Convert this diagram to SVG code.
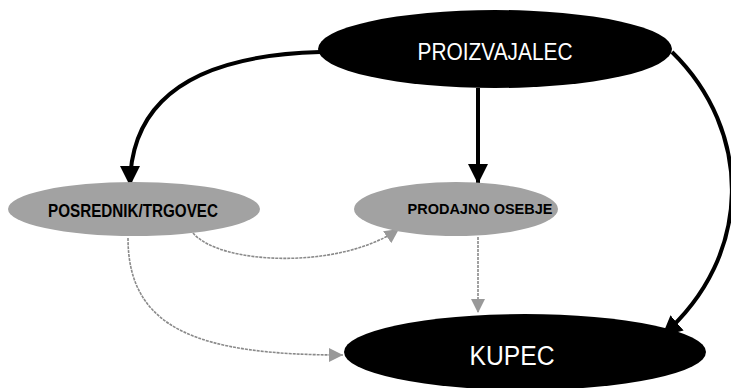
<svg xmlns="http://www.w3.org/2000/svg" width="731" height="388" viewBox="0 0 731 388">
<defs>
<style>
.dark{fill:#000}
.gray{fill:#a2a2a2}
.wt{fill:#fff;font-family:"Liberation Sans",Arial,sans-serif;font-weight:normal;text-anchor:middle}
.bt{fill:#000;font-family:"Liberation Sans",Arial,sans-serif;font-weight:bold;text-anchor:middle}
.thick{fill:none;stroke:#000;stroke-width:4}
.thin{fill:none;stroke:#8a8a8a;stroke-width:1.6;stroke-dasharray:3 1}
</style>
<marker id="ab" viewBox="0 0 10 10" refX="10" refY="5" markerWidth="5" markerHeight="5" markerUnits="strokeWidth" orient="auto">
<path d="M0,0 L10,5 L0,10 Z" fill="#000"/>
</marker>
<marker id="ag" viewBox="0 0 10 10" refX="10" refY="5" markerWidth="9" markerHeight="9" markerUnits="strokeWidth" orient="auto">
<path d="M0,0 L10,5 L0,10 Z" fill="#999"/>
</marker>
</defs>
<rect width="731" height="388" fill="#fff"/>
<g id="connectors">
<path class="thick" d="M320,52 C210,55 130,90 130,186" marker-end="url(#ab)"/>
<path class="thick" d="M478,88 L478,184" marker-end="url(#ab)"/>
<path class="thick" d="M672,52 C752,130 755,255 662,336" marker-end="url(#ab)"/>
<path class="thin" d="M478,237 L478,313" marker-end="url(#ag)"/>
<path class="thin" d="M193,233 C220,265 340,270 399,229" marker-end="url(#ag)"/>
<path class="thin" d="M128,238 C128,330 200,355 343,355" marker-end="url(#ag)"/>
</g>
<g id="proizvajalec">
<ellipse class="dark" cx="495" cy="49" rx="177" ry="39"/>
<text class="wt" x="495" y="60" font-size="23" textLength="155" lengthAdjust="spacingAndGlyphs">PROIZVAJALEC</text>
</g>
<g id="posrednik">
<ellipse class="gray" cx="134" cy="209" rx="126" ry="27"/>
<text class="bt" x="133" y="217" font-size="18" textLength="170" lengthAdjust="spacingAndGlyphs">POSREDNIK/TRGOVEC</text>
</g>
<g id="prodajno">
<ellipse class="gray" cx="456" cy="209" rx="102" ry="27"/>
<text class="bt" x="480" y="214" font-size="15.5" textLength="145" lengthAdjust="spacingAndGlyphs">PRODAJNO OSEBJE</text>
</g>
<g id="kupec">
<ellipse class="dark" cx="525" cy="352" rx="181" ry="38"/>
<text class="wt" x="512" y="365" font-size="27" textLength="85" lengthAdjust="spacingAndGlyphs">KUPEC</text>
</g>
</svg>
